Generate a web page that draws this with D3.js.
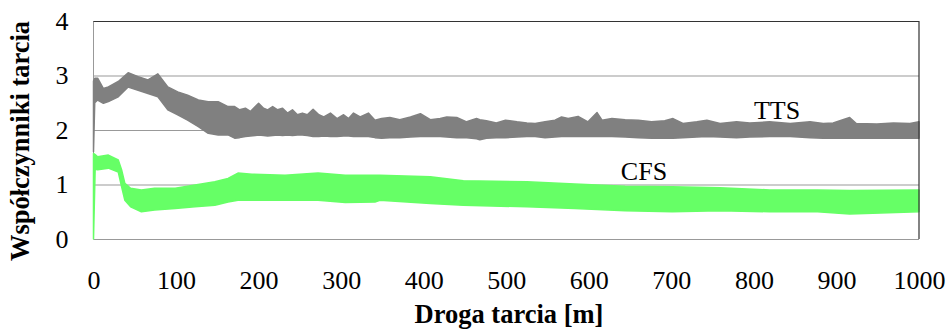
<!DOCTYPE html>
<html>
<head>
<meta charset="utf-8">
<script src="https://cdn.jsdelivr.net/npm/d3@7"></script>
<style>
  body { margin: 0; background: #fff; }
  svg { display: block; }
  svg text { font-family: 'Liberation Serif', serif; }
</style>
</head>
<body>
<div id="chart"></div>
<script>
// band envelopes (lower / upper) of each noisy trace
const ttsDist = [0, 1.5, 5, 12, 18, 30, 42, 54, 66, 78, 90, 102, 114, 127, 139, 151, 163, 171, 177, 184, 190, 196, 200, 206, 211, 217, 223, 229, 235, 241, 247, 253, 259, 266, 273, 279, 287, 295, 303, 309, 315, 323, 333, 341, 349, 359, 371, 384, 396, 408, 420, 428, 440, 452, 464, 468, 476, 488, 499, 513, 525, 535, 547, 559, 567, 575, 587, 599, 610, 616, 628, 644, 660, 676, 692, 702, 714, 731, 743, 759, 779, 795, 819, 844, 868, 884, 896, 916, 924, 949, 969, 989, 1000]
const ttsLow  = [1.60, 2.50, 2.55, 2.49, 2.52, 2.61, 2.79, 2.73, 2.67, 2.61, 2.37, 2.28, 2.18, 2.06, 1.94, 1.91, 1.91, 1.85, 1.86, 1.88, 1.89, 1.90, 1.91, 1.90, 1.89, 1.90, 1.91, 1.90, 1.91, 1.90, 1.91, 1.91, 1.90, 1.88, 1.88, 1.89, 1.88, 1.88, 1.89, 1.89, 1.88, 1.88, 1.88, 1.86, 1.85, 1.86, 1.86, 1.87, 1.88, 1.88, 1.88, 1.87, 1.86, 1.86, 1.84, 1.82, 1.85, 1.86, 1.86, 1.87, 1.88, 1.88, 1.86, 1.87, 1.88, 1.88, 1.88, 1.88, 1.88, 1.88, 1.88, 1.87, 1.86, 1.85, 1.85, 1.85, 1.86, 1.87, 1.88, 1.87, 1.86, 1.87, 1.88, 1.88, 1.86, 1.85, 1.85, 1.85, 1.85, 1.85, 1.85, 1.85, 1.85]
const ttsHigh = [2.90, 2.95, 2.95, 2.76, 2.79, 2.89, 3.05, 2.98, 2.92, 3.03, 2.79, 2.70, 2.64, 2.55, 2.52, 2.52, 2.43, 2.43, 2.37, 2.40, 2.34, 2.43, 2.49, 2.40, 2.37, 2.43, 2.37, 2.40, 2.31, 2.37, 2.28, 2.31, 2.28, 2.38, 2.28, 2.24, 2.31, 2.21, 2.28, 2.21, 2.31, 2.24, 2.31, 2.18, 2.21, 2.23, 2.19, 2.24, 2.30, 2.19, 2.21, 2.24, 2.23, 2.15, 2.21, 2.19, 2.17, 2.13, 2.18, 2.15, 2.13, 2.12, 2.15, 2.18, 2.24, 2.21, 2.25, 2.15, 2.32, 2.18, 2.21, 2.19, 2.18, 2.15, 2.17, 2.21, 2.12, 2.15, 2.18, 2.12, 2.15, 2.13, 2.15, 2.12, 2.15, 2.12, 2.13, 2.23, 2.12, 2.11, 2.13, 2.12, 2.15]

const cfsDist = [0, 2, 5, 18, 30, 34, 38, 45, 58, 74, 99, 123, 147, 163, 175, 192, 232, 272, 305, 341, 347, 408, 448, 525, 583, 644, 701, 759, 819, 877, 916, 1000]
const cfsLow  = [0.00, 1.28, 1.27, 1.30, 1.23, 0.96, 0.71, 0.59, 0.50, 0.53, 0.56, 0.59, 0.62, 0.68, 0.71, 0.71, 0.71, 0.71, 0.67, 0.68, 0.71, 0.65, 0.62, 0.59, 0.56, 0.52, 0.50, 0.52, 0.50, 0.50, 0.46, 0.50]
const cfsHigh = [1.57, 1.55, 1.51, 1.54, 1.45, 1.27, 1.02, 0.93, 0.90, 0.93, 0.93, 0.99, 1.05, 1.11, 1.21, 1.19, 1.17, 1.21, 1.17, 1.17, 1.17, 1.14, 1.07, 1.05, 1.01, 0.97, 0.96, 0.94, 0.90, 0.90, 0.89, 0.90]

const xTicks = [0, 100, 200, 300, 400, 500, 600, 700, 800, 900, 1000]
const yTicks = [0, 1, 2, 3, 4]

const svg_width = 949
const svg_height = 333
const plot_left = 93.5
const plot_right = 919
const plot_top = 21
const plot_bottom = 239
const serif = "'Liberation Serif', serif"

const xScale = d3.scaleLinear().domain([0, 1000]).range([plot_left, plot_right])
const yScale = d3.scaleLinear().domain([0, 4]).range([plot_bottom, plot_top])

const svg = d3.select('#chart')
  .append('svg')
  .attr('width', svg_width)
  .attr('height', svg_height)

// horizontal grid lines
svg.append('g')
  .attr('transform', `translate(${plot_left},0)`)
  .call(d3.axisLeft(yScale).tickValues(yTicks).tickSize(-(plot_right - plot_left)).tickFormat(''))
  .call(g => g.select('.domain').remove())
  .selectAll('line')
    .attr('stroke', '#999')
    .attr('stroke-width', 1)

// left border
svg.append('line')
  .attr('x1', plot_left).attr('x2', plot_left)
  .attr('y1', plot_top).attr('y2', plot_bottom)
  .attr('stroke', '#999')

// the two bands
const series = [
  { name: 'TTS', dist: ttsDist, low: ttsLow, high: ttsHigh, color: '#808080' },
  { name: 'CFS', dist: cfsDist, low: cfsLow, high: cfsHigh, color: '#66ff66' }
]

const area = d3.area()
  .x(d => xScale(d.x))
  .y0(d => yScale(d.lo))
  .y1(d => yScale(d.hi))

svg.selectAll('path.band')
  .data(series)
  .join('path')
    .attr('class', 'band')
    .attr('d', s => area(s.dist.map((x, i) => ({ x, lo: s.low[i], hi: s.high[i] }))))
    .attr('fill', s => s.color)
    .attr('stroke', s => s.color)
    .attr('stroke-width', 1.5)
    .attr('stroke-linejoin', 'round')

// top and right frame
svg.append('path')
  .attr('d', `M${plot_left},${plot_top + 0.5}H${plot_right}V${plot_bottom}`)
  .attr('fill', 'none')
  .attr('stroke', '#333')
  .attr('stroke-width', 1.2)

// y tick labels
svg.append('g')
  .attr('transform', `translate(${plot_left},0)`)
  .call(d3.axisLeft(yScale).tickValues(yTicks).tickFormat(d3.format('d')).tickSize(0).tickPadding(25))
  .call(g => g.select('.domain').remove())
  .selectAll('text')
    .attr('font-size', 26)
    .attr('fill', '#000')

// x tick labels
svg.append('g')
  .attr('transform', `translate(0,${plot_bottom})`)
  .call(d3.axisBottom(xScale).tickValues(xTicks).tickFormat(d3.format('d')).tickSize(0).tickPadding(32))
  .call(g => g.select('.domain').remove())
  .selectAll('text')
    .attr('font-size', 26)
    .attr('fill', '#000')

// series labels
svg.append('text')
  .attr('x', 777).attr('y', 119)
  .attr('text-anchor', 'middle')
  .attr('font-size', 26)
  .text('TTS')

svg.append('text')
  .attr('x', 644).attr('y', 180)
  .attr('text-anchor', 'middle')
  .attr('font-size', 26)
  .text('CFS')

// axis titles
svg.append('text')
  .attr('transform', 'translate(29,141) rotate(-90)')
  .attr('text-anchor', 'middle')
  .attr('font-weight', 'bold')
  .attr('font-size', 26.5)
  .text('Współczynniki tarcia')

svg.append('text')
  .attr('x', 509).attr('y', 323)
  .attr('text-anchor', 'middle')
  .attr('font-weight', 'bold')
  .attr('font-size', 26.5)
  .text('Droga tarcia [m]')
</script>
</body>
</html>
